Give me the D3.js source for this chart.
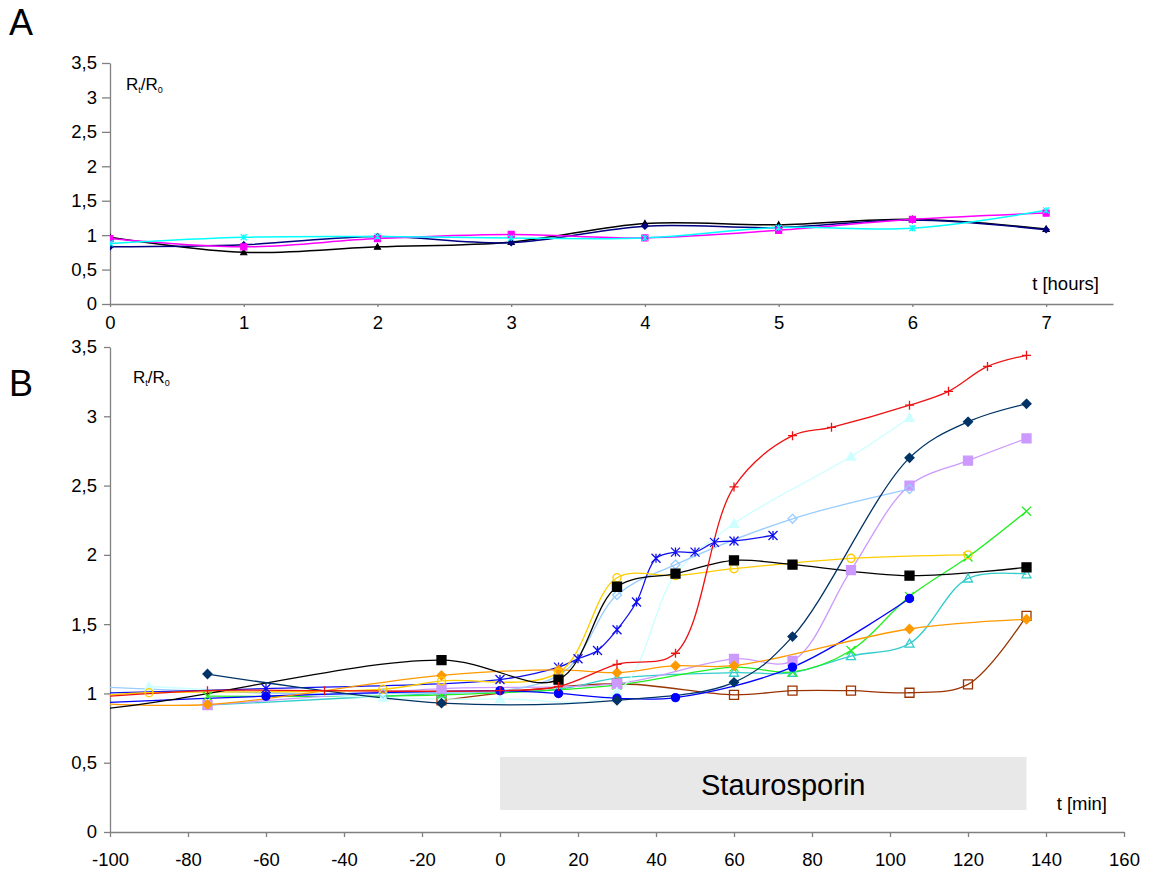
<!DOCTYPE html>
<html><head><meta charset="utf-8">
<script src="https://cdn.jsdelivr.net/npm/d3@7"></script>
<style>
body{margin:0;background:#fff}
svg{display:block;font-family:"Liberation Sans",Arial,sans-serif}
</style>
</head><body>
<svg id="c" width="1149" height="872"></svg>
<script>
// ---------- Panel A data (hours) ----------
const hoursA = [0,1,2,3,4,5,6,7];
const hourTicks = [0,1,2,3,4,5,6,7];
const aBlack   = [0.97,0.75,0.83,0.90,1.17,1.15,1.23,1.09];
const aNavy    = [0.83,0.86,0.98,0.89,1.13,1.11,1.22,1.08];
const aMagenta = [0.95,0.83,0.95,1.01,0.96,1.07,1.23,1.32];
const aCyan    = [0.88,0.97,0.98,0.96,0.96,1.11,1.10,1.36];

// ---------- Panel B data (minutes) ----------
const minuteTicks = [-100,-80,-60,-40,-20,0,20,40,60,80,100,120,140,160];
const ratioTicks = [0,0.5,1,1.5,2,2.5,3,3.5];
const drugStart = 0, drugEnd = 135;

const bRedT = [-105,-75,-45,0,15,30,45,60,75,85,105,115,125,135];
const bRedV = [0.97,1.02,1.02,1.02,1.05,1.21,1.29,2.49,2.86,2.92,3.08,3.18,3.36,3.44];
const bNavyT = [-75,-15,30,60,75,105,120,135];
const bNavyV = [1.14,0.93,0.95,1.08,1.41,2.70,2.96,3.09];
const bBlackT = [-160,-105,-15,15,30,45,60,75,105,135];
const bBlackV = [0.86,0.88,1.24,1.10,1.77,1.865,1.96,1.93,1.85,1.91];
const bYellowT = [-105,-90,-30,-15,15,30,45,60,90,120];
const bYellowV = [0.98,1.005,1.03,1.09,1.15,1.835,1.85,1.90,1.975,2.0];
const bOrangeT = [-105,-75,-15,15,30,45,60,105,135];
const bOrangeV = [0.93,0.92,1.13,1.17,1.15,1.20,1.20,1.465,1.535];
const bStarT = [-105,-60,0,15,20,25,30,35,40,45,50,55,60,70];
const bStarV = [1.0,1.035,1.10,1.19,1.25,1.31,1.46,1.66,1.975,2.02,2.02,2.09,2.10,2.14];
const bDotT = [-105,-60,0,15,30,45,75,105];
const bDotV = [0.93,0.98,1.02,1.0,0.965,0.97,1.19,1.685];
const bSkyT = [-105,-30,15,30,45,75,105];
const bSkyV = [1.05,1.0,1.13,1.71,1.93,2.26,2.475];
const bPaleT = [-90,-30,0,30,45,60,90,105];
const bPaleV = [1.05,0.97,0.96,1.01,1.86,2.225,2.71,2.99];
const bLilacT = [-75,-15,30,60,75,90,105,120,135];
const bLilacV = [0.915,1.035,1.07,1.25,1.235,1.89,2.50,2.68,2.84];
const bGreenT = [-75,-15,30,60,75,90,105,120,135];
const bGreenV = [0.98,0.99,1.06,1.19,1.155,1.31,1.70,1.985,2.315];
const bTurqT = [-75,-15,15,30,60,75,90,105,120,135];
const bTurqV = [0.915,1.0,1.03,1.11,1.15,1.15,1.27,1.36,1.83,1.86];
const bBrownT = [-15,30,60,75,90,105,120,135];
const bBrownV = [0.95,1.07,0.99,1.02,1.02,1.005,1.065,1.56];

const seriesA = [
  {x:hoursA, y:aBlack,   color:"#000000", shape:"triangle", fill:true},
  {x:hoursA, y:aNavy,    color:"#000080", shape:"diamond",  fill:true},
  {x:hoursA, y:aMagenta, color:"#ff00ff", shape:"square",   fill:true},
  {x:hoursA, y:aCyan,    color:"#00ffff", shape:"star",     fill:false},
];
const seriesB = [
  {x:bBrownT,  y:bBrownV,  color:"#993300", shape:"square",  fill:false},
  {x:bTurqT,   y:bTurqV,   color:"#33cccc", shape:"triangle",fill:false},
  {x:bGreenT,  y:bGreenV,  color:"#22ee22", shape:"x",       fill:false},
  {x:bLilacT,  y:bLilacV,  color:"#cc99ff", shape:"square",  fill:true},
  {x:bPaleT,   y:bPaleV,   color:"#ccffff", shape:"triangle",fill:true},
  {x:bSkyT,    y:bSkyV,    color:"#99ccff", shape:"diamond", fill:false},
  {x:bDotT,    y:bDotV,    color:"#0000ff", shape:"circle",  fill:true},
  {x:bStarT,   y:bStarV,   color:"#1010ee", shape:"star",    fill:false},
  {x:bOrangeT, y:bOrangeV, color:"#ff9900", shape:"diamond", fill:true},
  {x:bYellowT, y:bYellowV, color:"#ffcc00", shape:"circle",  fill:false},
  {x:bBlackT,  y:bBlackV,  color:"#000000", shape:"square",  fill:true},
  {x:bNavyT,   y:bNavyV,   color:"#003366", shape:"diamond", fill:true},
  {x:bRedT,    y:bRedV,    color:"#ee1111", shape:"plus",    fill:false},
];

const svg = d3.select("#c");
const fmt = d => String(d).replace(".", ",");
const axisColor = "#808080";

function markerPath(type, r){
  switch(type){
    case "square": return `M${-r},${-r}H${r}V${r}H${-r}Z`;
    case "diamond": return `M0,${-r}L${r},0L0,${r}L${-r},0Z`;
    case "triangle": return `M0,${-r}L${r},${r*0.8}L${-r},${r*0.8}Z`;
    case "circle": return `M${r},0A${r},${r} 0 1,1 ${-r},0A${r},${r} 0 1,1 ${r},0Z`;
    case "plus": return `M${-r},0H${r}M0,${-r}V${r}`;
    case "x": return `M${-r},${-r}L${r},${r}M${-r},${r}L${r},${-r}`;
    case "star": return `M${-r},${-r}L${r},${r}M${-r},${r}L${r},${-r}M0,${-r}V${r}`;
  }
}

function styleAxis(g, fs){
  g.selectAll(".domain").attr("stroke", axisColor).attr("stroke-width",1.3);
  g.selectAll(".tick line").attr("stroke", axisColor).attr("stroke-width",1.3);
  g.selectAll(".tick text").attr("fill","#000").style("font-size", fs+"px")
    .style("font-family", '"Liberation Sans",Arial,sans-serif');
}

function drawPanel(cfg){
  const {xs, ys, series, xTicks, clipId, r, lw, sw, xTick, xPad, yTick, yPad} = cfg;
  const [x0,x1] = xs.range();
  const [yb,yt] = ys.range();
  svg.append("defs").append("clipPath").attr("id", clipId)
    .append("rect").attr("x", x0).attr("y", yt-20).attr("width", x1-x0+20).attr("height", yb-yt+20);

  const gy = svg.append("g").attr("transform", `translate(${x0},0)`)
    .call(d3.axisLeft(ys).tickValues(ratioTicks).tickFormat(fmt).tickSize(yTick).tickSizeOuter(0).tickPadding(yPad));
  styleAxis(gy, 18.5);
  const gx = svg.append("g").attr("transform", `translate(0,${yb})`)
    .call(d3.axisBottom(xs).tickValues(xTicks).tickFormat(d=>String(d)).tickSize(xTick).tickSizeOuter(0).tickPadding(xPad));
  styleAxis(gx, 18.5);

  const plot = svg.append("g").attr("clip-path", `url(#${clipId})`);
  const line = d3.line().x(d=>xs(d[0])).y(d=>ys(d[1])).curve(d3.curveCatmullRom.alpha(0.5));
  series.forEach(s=>{
    const pts = s.x.map((t,i)=>[t, s.y[i]]);
    plot.append("path").attr("d", line(pts)).attr("fill","none")
      .attr("stroke", s.color).attr("stroke-width", lw);
  });
  series.forEach(s=>{
    const pts = s.x.map((t,i)=>[t, s.y[i]]);
    plot.selectAll(null).data(pts).enter().append("path")
      .attr("transform", d=>`translate(${xs(d[0])},${ys(d[1])})`)
      .attr("d", markerPath(s.shape, s.shape==="circle" ? r*0.9 : r))
      .attr("fill", s.fill ? s.color : "none")
      .attr("stroke", s.color).attr("stroke-width", sw);
  });
}

// ---------- Panel A ----------
const xA = d3.scaleLinear().domain([0,7.5]).range([110,1113]);
const yA = d3.scaleLinear().domain([0,3.5]).range([304,63]);
drawPanel({xs:xA, ys:yA, series:seriesA, xTicks:hourTicks, clipId:"clipA", r:3, lw:1.5, sw:1.2,
  xTick:3, xPad:9, yTick:8, yPad:5});

// ---------- Panel B ----------
const xB = d3.scaleLinear().domain([-100,160]).range([110,1124]);
const yB = d3.scaleLinear().domain([0,3.5]).range([832,347]);

svg.append("rect").attr("x", xB(drugStart)).attr("y", 757)
  .attr("width", xB(drugEnd)-xB(drugStart)).attr("height", 53).attr("fill","#e8e8e8");
svg.append("text").attr("x", (xB(drugStart)+xB(drugEnd))/2 + 20).attr("y", 795)
  .attr("text-anchor","middle").style("font-size","29px").text("Staurosporin");

drawPanel({xs:xB, ys:yB, series:seriesB, xTicks:minuteTicks, clipId:"clipB", r:4.5, lw:1.3, sw:1.3,
  xTick:5, xPad:16, yTick:6, yPad:7});

// ---------- Labels ----------
svg.append("text").attr("x", 9).attr("y", 35).style("font-size","36px").text("A");
svg.append("text").attr("x", 9).attr("y", 396).style("font-size","36px").text("B");

function ratioLabel(x, y){
  const t = svg.append("text").attr("x", x).attr("y", y).style("font-size","17px");
  t.append("tspan").text("R");
  t.append("tspan").attr("dy", 3).style("font-size","9px").text("t");
  t.append("tspan").attr("dy", -3).text("/R");
  t.append("tspan").attr("dy", 3).style("font-size","9px").text("0");
}
ratioLabel(126, 90);
ratioLabel(133, 383);

svg.append("text").attr("x", 1099).attr("y", 290).attr("text-anchor","end")
  .style("font-size","18.5px").text("t [hours]");
svg.append("text").attr("x", 1107).attr("y", 810).attr("text-anchor","end")
  .style("font-size","18.5px").text("t [min]");
</script>
</body></html>
